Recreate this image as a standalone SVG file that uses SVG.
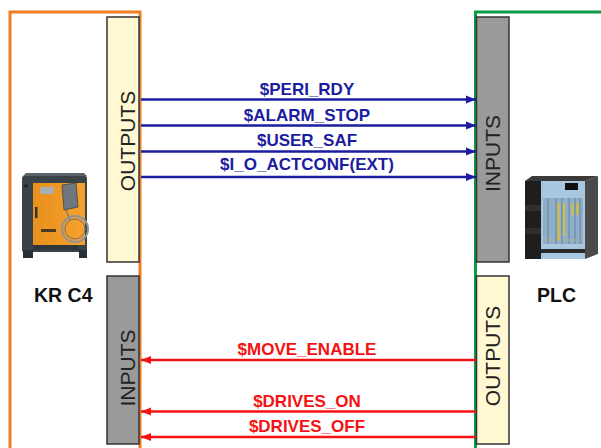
<svg xmlns="http://www.w3.org/2000/svg" width="601" height="448" viewBox="0 0 601 448">
  <defs>
    <style>
      .box-out { fill: #FFF8D2; stroke: #333; stroke-width: 1.5; }
      .box-in { fill: #9A9A9A; stroke: #333; stroke-width: 1.5; }
      .box-label { font-family: "Liberation Sans", Arial, sans-serif; font-size: 21px; fill: #222; text-anchor: middle; }
      .dev-label { font-family: "Liberation Sans", Arial, sans-serif; font-size: 19.5px; font-weight: bold; fill: #111; }
      .sig { font-family: "Liberation Sans", Arial, sans-serif; font-size: 17px; font-weight: bold; text-anchor: middle; }
      .sig-blue { fill: #1C1CA0; }
      .sig-red { fill: #F41212; }
      .wire-blue { stroke: #1C1CA0; stroke-width: 2.5; fill: none; }
      .wire-red { stroke: #F41212; stroke-width: 2.5; fill: none; }
    </style>
    <marker id="head-blue" markerUnits="userSpaceOnUse" markerWidth="11" markerHeight="9" refX="10" refY="4.5" orient="auto">
      <path d="M0,0.5 L10,4.5 L0,8.5 Z" fill="#1C1CA0"/>
    </marker>
    <marker id="head-red" markerUnits="userSpaceOnUse" markerWidth="11" markerHeight="9" refX="10" refY="4.5" orient="auto">
      <path d="M0,0.5 L10,4.5 L0,8.5 Z" fill="#F41212"/>
    </marker>
    <linearGradient id="door" x1="0" y1="0" x2="1" y2="0">
      <stop offset="0" stop-color="#E8901C"/>
      <stop offset="1" stop-color="#F5A030"/>
    </linearGradient>
  </defs>

  <rect width="601" height="448" fill="#fff"/>

  <!-- controller side (KR C4) -->
  <g id="krc4">
    <path d="M10,448 V12 H140 V448" fill="none" stroke="#EE7F22" stroke-width="3"/>
    <g id="krc4-outputs">
      <rect class="box-out" x="107" y="17" width="32" height="245"/>
      <text class="box-label" transform="translate(135,141) rotate(-90)">OUTPUTS</text>
    </g>
    <g id="krc4-inputs">
      <rect class="box-in" x="107" y="276" width="32" height="168"/>
      <text class="box-label" transform="translate(135,368) rotate(-90)">INPUTS</text>
    </g>
    <!-- cabinet icon -->
    <g id="krc4-icon">
      <rect x="22" y="176" width="65" height="76" rx="2" fill="#3B4348"/>
      <path d="M23,176 L26,173 L84,173 L87,176 Z" fill="#59636A"/>
      <rect x="33" y="183" width="52" height="62" fill="url(#door)"/>
      <rect x="40" y="187" width="14" height="7" rx="1" fill="#A9AEB2"/>
      <rect x="35" y="207" width="2.5" height="11" fill="#333"/>
      <rect x="41" y="229" width="15" height="3" fill="#4a3a20"/>
      <circle cx="26" cy="186" r="1.8" fill="#222"/>
      <path d="M62,185 L76,183 L78,207 L64,210 Z" fill="#6E777E" stroke="#444" stroke-width="0.8"/>
      <path d="M66,210 L70,220" stroke="#777" stroke-width="1.2"/>
      <circle cx="75" cy="229" r="13" fill="none" stroke="#8E9398" stroke-width="2"/>
      <circle cx="75" cy="229" r="10" fill="none" stroke="#6f7478" stroke-width="1"/>
      <rect x="23" y="250" width="10" height="8" fill="#2A2F33"/>
      <rect x="79" y="250" width="8" height="8" fill="#2A2F33"/>
      <rect x="33" y="245" width="46" height="5" fill="#30363A"/>
    </g>
    <text class="dev-label" x="34" y="302">KR C4</text>
  </g>

  <!-- PLC side -->
  <g id="plc">
    <path d="M475.5,448 V12 H601" fill="none" stroke="#0E9A44" stroke-width="3"/>
    <g id="plc-inputs">
      <rect class="box-in" x="476.5" y="17" width="32.5" height="245"/>
      <text class="box-label" transform="translate(500,153.5) rotate(-90)">INPUTS</text>
    </g>
    <g id="plc-outputs">
      <rect class="box-out" x="476.5" y="276" width="32.5" height="168"/>
      <text class="box-label" transform="translate(500,356) rotate(-90)">OUTPUTS</text>
    </g>
    <!-- rack icon -->
    <g id="plc-icon">
      <path d="M525,181 L532,176 L598,176 L585,181 Z" fill="#3A3A3A"/>
      <rect x="525" y="181" width="16" height="78" fill="#1E1E1E"/>
      <rect x="525" y="205" width="16" height="6" fill="#2E2E2E"/>
      <rect x="525" y="228" width="16" height="6" fill="#2E2E2E"/>
      <rect x="541" y="181" width="44" height="78" fill="#A8C6DE"/>
      <rect x="565" y="183" width="13" height="7" fill="#111"/>
      <rect x="543" y="198" width="40" height="46" fill="#8FAECA"/>
      <g stroke="#5D7A94" stroke-width="0.8">
        <line x1="548" y1="198" x2="548" y2="244"/>
        <line x1="556" y1="198" x2="556" y2="244"/>
        <line x1="562" y1="198" x2="562" y2="244"/>
        <line x1="569" y1="198" x2="569" y2="244"/>
        <line x1="575" y1="198" x2="575" y2="244"/>
        <line x1="580" y1="198" x2="580" y2="244"/>
      </g>
      <g stroke="#E2C42A" stroke-width="1.8">
        <line x1="558.5" y1="203" x2="558.5" y2="240"/>
        <line x1="564" y1="203" x2="564" y2="236"/>
        <line x1="572.5" y1="203" x2="572.5" y2="215"/>
        <line x1="577.5" y1="203" x2="577.5" y2="215"/>
      </g>
      <line x1="543" y1="240" x2="583" y2="240" stroke="#E2C42A" stroke-width="1" stroke-dasharray="2 3"/>
      <rect x="541" y="249" width="44" height="4" fill="#2A2A2A"/>
      <path d="M585,181 L598,176 L598,254 L585,259 Z" fill="#4A4A4A"/>
    </g>
    <text class="dev-label" x="537" y="302">PLC</text>
  </g>

  <!-- signal lines between controller and PLC -->
  <g id="connectors">
    <line class="wire-blue" x1="141" y1="99.5" x2="476" y2="99.5" marker-end="url(#head-blue)"/>
    <line class="wire-blue" x1="141" y1="125.5" x2="476" y2="125.5" marker-end="url(#head-blue)"/>
    <line class="wire-blue" x1="141" y1="151.5" x2="476" y2="151.5" marker-end="url(#head-blue)"/>
    <line class="wire-blue" x1="141" y1="177" x2="476" y2="177" marker-end="url(#head-blue)"/>
    <text class="sig sig-blue" x="307" y="94.5">$PERI_RDY</text>
    <text class="sig sig-blue" x="307" y="120.5">$ALARM_STOP</text>
    <text class="sig sig-blue" x="307" y="146">$USER_SAF</text>
    <text class="sig sig-blue" x="307" y="170">$I_O_ACTCONF(EXT)</text>

    <line class="wire-red" x1="476" y1="360" x2="141" y2="360" marker-end="url(#head-red)"/>
    <line class="wire-red" x1="476" y1="411.5" x2="141" y2="411.5" marker-end="url(#head-red)"/>
    <line class="wire-red" x1="476" y1="437" x2="141" y2="437" marker-end="url(#head-red)"/>
    <text class="sig sig-red" x="307" y="355">$MOVE_ENABLE</text>
    <text class="sig sig-red" x="307" y="407">$DRIVES_ON</text>
    <text class="sig sig-red" x="307" y="432">$DRIVES_OFF</text>
  </g>
</svg>
